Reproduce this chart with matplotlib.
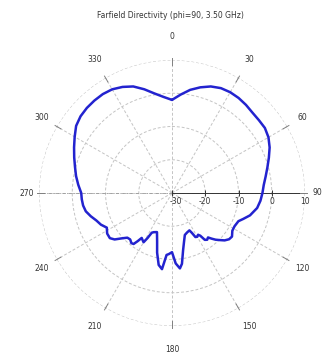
import numpy as np
import matplotlib
matplotlib.use("Agg")
import matplotlib.pyplot as plt
import matplotlib.transforms as mtransforms

# Far-field directivity cut, phi = 90 deg, 3.50 GHz
# theta in degrees (0 at top, clockwise), directivity in dBi
theta_deg = [
    0, 5, 10, 15, 20, 25, 30, 35, 40, 45, 50, 55, 60, 65, 70, 75, 80, 85,
    90, 95, 100, 106, 110, 113, 118, 122, 126, 129, 132, 135, 137, 139, 141,
    143, 145, 146.5, 148, 150, 152, 153.5, 155, 159, 163, 166, 169, 172,
    174, 177,
    180, 183, 185, 187.5, 190.5, 194, 197, 201, 205, 207, 208.5, 210, 212,
    214, 215.5, 217, 219, 222, 225, 228, 231, 234, 238, 242, 246, 250, 254,
    258, 262, 266,
    270, 275, 280, 285, 290, 295, 300, 305, 310, 315, 320, 325, 330,
    335, 340, 345, 350, 355, 360,
]
directivity_db = [
    -2.0, -0.3, 1.5, 2.9, 4.1, 4.8, 5.0, 4.9, 4.6, 4.2, 4.1, 4.1, 3.5, 2.4,
    1.0, -0.3, -1.4, -2.3,
    -2.8, -3.3, -4.0, -5.6, -7.2, -8.3, -8.7, -8.6, -7.7, -7.9, -8.7, -10.0,
    -10.8, -11.8, -12.8, -12.4, -12.8, -14.6, -15.2, -14.8, -15.0, -16.6,
    -17.6, -17.3, -16.8, -15.0, -12.5, -8.5, -7.2, -8.8,
    -12.2, -11.6, -11.3, -6.9, -8.0, -11.5, -14.7, -17.4, -17.0, -16.6,
    -14.6, -12.9, -13.3, -13.7, -12.2, -10.8, -10.6, -11.2, -11.0, -9.6,
    -7.8, -6.9, -7.0, -7.8, -6.6, -5.8, -4.6, -3.5, -3.0, -2.8,
    -2.7, -1.7, -0.7, 0.2, 1.3, 2.5, 3.8, 5.2, 5.9, 6.2, 6.3, 6.3, 6.0,
    5.2, 4.1, 2.3, 0.4, -1.0, -2.0,
]

r_min, r_max = -30, 10
ring_values = [-20, -10, 0, 10]
radial_labels = ["-30", "-20", "-10", "0", "10"]
radial_label_values = [-30, -20, -10, 0, 10]
angle_ticks = list(range(0, 360, 30))
title = "Farfield Directivity (phi=90, 3.50 GHz)"

W, H, DPI = 336, 359, 100
fig = plt.figure(figsize=(W / DPI, H / DPI), dpi=DPI)
fig.patch.set_facecolor("white")

cx, cy, R = 172, 359 - 193, 133  # centre and outer radius in pixels
ax = fig.add_axes([(cx - R) / W, (cy - R) / H, 2 * R / W, 2 * R / H],
                  projection="polar")
ax.set_theta_zero_location("N")
ax.set_theta_direction(-1)
ax.set_rlim(r_min, r_max)
ax.set_facecolor("white")
ax.spines["polar"].set_visible(False)

grid_color = "#c4c4c4"
ax.set_rticks(ring_values)
ax.set_yticklabels([])
ax.set_thetagrids(angle_ticks, labels=[""] * len(angle_ticks))
ax.grid(True, linestyle=(0, (3, 2)), color=grid_color, linewidth=0.7)
ax.tick_params(axis="both", length=0)

# horizontal reference axis with radial scale
ax.plot([np.pi / 2, np.pi / 2], [r_min, r_max], color="#333333", lw=0.7,
        zorder=3)
ax.plot([3 * np.pi / 2, 3 * np.pi / 2], [r_min, r_max], color="#9a9a9a",
        lw=0.6, ls=(0, (4, 1.5, 1, 1.5)), zorder=3)
ax.plot([np.pi / 2] * len(radial_label_values), radial_label_values,
        ls="none", marker="|", ms=4, mew=0.7, color="#333333", zorder=3)

# short marks on the outer ring at every spoke
for a in angle_ticks:
    t = np.deg2rad(a)
    ax.plot([t, t], [8.6, 10.6], color="#808080", lw=0.7, clip_on=False,
            zorder=3)

# radial scale labels below the axis
for val, lab in zip(radial_label_values, radial_labels):
    dx = 4 if val == r_min else 0
    off = mtransforms.offset_copy(ax.transData, fig=fig, x=dx, y=-9,
                                  units="dots")
    ax.text(np.pi / 2, val, lab, transform=off, ha="center", va="center",
            fontsize=5.5, color="#333333")

# angle labels around the circle
scale = (r_max - r_min) / R
for a in angle_ticks:
    t = np.deg2rad(a)
    rpx = 145 + 11 * abs(np.cos(t))
    ax.text(t, r_min + rpx * scale, str(a), ha="center", va="center",
            fontsize=5.5, color="#333333", clip_on=False)

# pattern
ax.plot(np.deg2rad(theta_deg), directivity_db, color="#2323cf", lw=1.8,
        zorder=4, solid_joinstyle="round", solid_capstyle="round")

fig.text(170.5 / W, 1 - 15 / H, title, ha="center", va="center",
         fontsize=5.5, color="#333333")

fig.savefig("out.png", dpi=DPI, facecolor="white")
